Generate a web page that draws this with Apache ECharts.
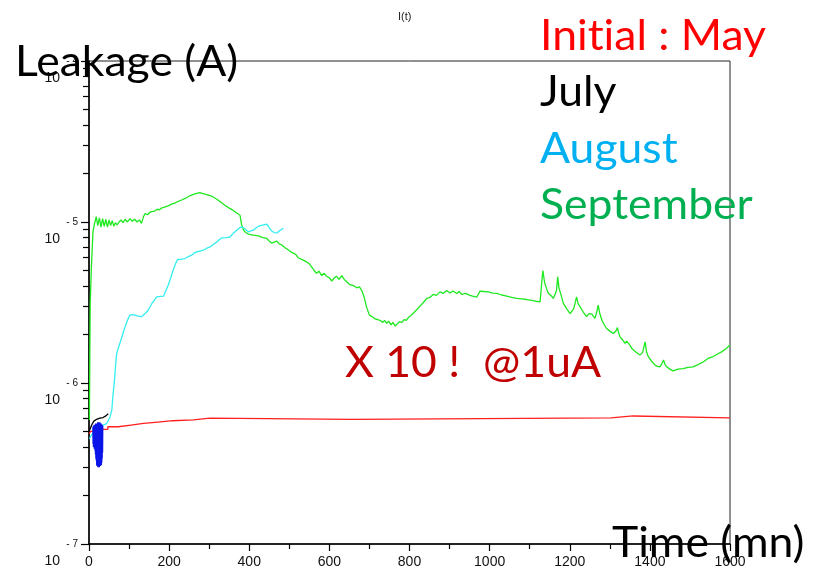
<!DOCTYPE html>
<html>
<head>
<meta charset="utf-8">
<script src="https://cdn.jsdelivr.net/npm/echarts@6/dist/echarts.min.js"></script>
<style>html,body{margin:0;padding:0;background:#fff}#c{width:815px;height:570px}</style>
</head>
<body>
<div id="c"></div>
<script>
// ---- data (time in mn, leakage in A) ----
const xTicks = [0, 200, 400, 600, 800, 1000, 1200, 1400, 1600];
const yDecades = [-7, -6, -5, -4];
const minorMantissas = [2, 3, 4, 5, 6, 7, 8, 9];

const redMay = [[0,4.85e-7],[4,5.0e-7],[12,5.15e-7],[47,5.35e-7],[73,5.48e-7],[105,5.61e-7],[136,5.72e-7],[172,5.83e-7],[209,5.91e-7],[260,6.05e-7],[302,5.94e-7],[656,6.08e-7],[1303,6.24e-7],[1358,6.08e-7],[1600,6.08e-7]];

const blackJuly = [[0,5.0e-7],[3,5.2e-7],[7,5.5e-7],[12,5.8e-7],[19,5.95e-7],[27,6.05e-7],[35,6.1e-7],[42,6.25e-7],[48,6.45e-7]];

const blueJuly = [[10,5.3e-7],[10.5,4.2e-7],[11,5.4e-7],[11.5,4.0e-7],[12,5.4e-7],[12.5,4.1e-7],[13,5.5e-7],[13.5,3.9e-7],[14,5.5e-7],[14.5,4.0e-7],[15,5.5e-7],[15.5,3.8e-7],[16,5.5e-7],[16.5,3.6e-7],[17,5.6e-7],[17.5,3.4e-7],[18,5.6e-7],[18.5,3.3e-7],[19,5.6e-7],[19.5,3.1e-7],[20,5.6e-7],[20.5,3.05e-7],[21,5.6e-7],[21.5,3.1e-7],[22,5.7e-7],[22.5,3.0e-7],[23,5.7e-7],[23.5,3.05e-7],[24,5.7e-7],[24.5,3.1e-7],[25,5.7e-7],[25.5,3.0e-7],[26,5.7e-7],[26.5,3.05e-7],[27,5.7e-7],[27.5,3.1e-7],[28,5.6e-7],[28.5,3.05e-7],[29,5.6e-7],[29.5,3.1e-7],[30,5.6e-7],[30.5,3.1e-7],[31,5.5e-7],[31.5,3.2e-7],[32,5.5e-7],[32.5,3.4e-7],[33,5.5e-7],[33.5,3.7e-7],[34,5.4e-7]];

const cyanAugust = [[1,4.5e-7],[5,4.7e-7],[12,5.0e-7],[20,5.2e-7],[30,5.4e-7],[44,5.6e-7],[52,6.1e-7],[57,6.8e-7],[60,8.5e-7],[63,1.0e-6],[66,1.25e-6],[69,1.53e-6],[77,1.76e-6],[84,2.0e-6],[90,2.23e-6],[96,2.45e-6],[102,2.64e-6],[108,2.66e-6],[115,2.64e-6],[123,2.6e-6],[131,2.58e-6],[140,2.7e-6],[148,2.84e-6],[158,3.15e-6],[169,3.43e-6],[178,3.45e-6],[186,3.46e-6],[192,3.75e-6],[198,4.06e-6],[204,4.5e-6],[210,5.02e-6],[216,5.5e-6],[221,5.85e-6],[230,5.88e-6],[240,5.93e-6],[248,6.1e-6],[256,6.22e-6],[262,6.4e-6],[269,6.52e-6],[277,6.6e-6],[285,6.68e-6],[293,6.85e-6],[302,7.0e-6],[310,7.25e-6],[319,7.52e-6],[325,7.75e-6],[331,7.96e-6],[342,8.0e-6],[352,8.07e-6],[360,8.5e-6],[369,8.89e-6],[377,9.25e-6],[383,9.3e-6],[388,9.12e-6],[393,8.9e-6],[398,8.69e-6],[404,8.8e-6],[410,8.89e-6],[416,9.15e-6],[423,9.42e-6],[433,9.55e-6],[444,9.69e-6],[450,9.2e-6],[456,8.8e-6],[462,8.6e-6],[469,8.55e-6],[473,8.75e-6],[477,8.89e-6],[485,9.12e-6]];

const greenSeptember = [[1,5.9e-7],[2,1.5e-6],[3,3.13e-6],[6,5.3e-6],[10,8.7e-6],[14,9.8e-6],[18,1.08e-5],[22,9.5e-6],[26,1.06e-5],[30,9.3e-6],[34,1.05e-5],[38,9.4e-6],[42,1.04e-5],[46,9.3e-6],[50,1.03e-5],[54,9.5e-6],[58,1.02e-5],[62,9.4e-6],[66,9.9e-6],[70,9.6e-6],[75,1.0e-5],[80,1.03e-5],[85,9.9e-6],[90,1.04e-5],[96,1.0e-5],[102,1.05e-5],[108,1.01e-5],[114,1.04e-5],[120,1.0e-5],[126,1.03e-5],[131,9.8e-6],[136,1.08e-5],[140,1.13e-5],[146,1.11e-5],[152,1.15e-5],[157,1.16e-5],[164,1.17e-5],[170,1.2e-5],[176,1.19e-5],[181,1.22e-5],[190,1.24e-5],[198,1.26e-5],[206,1.29e-5],[214,1.31e-5],[222,1.34e-5],[231,1.37e-5],[240,1.40e-5],[248,1.44e-5],[256,1.47e-5],[266,1.50e-5],[277,1.52e-5],[284,1.50e-5],[290,1.49e-5],[298,1.47e-5],[306,1.45e-5],[314,1.41e-5],[322,1.37e-5],[330,1.32e-5],[339,1.27e-5],[350,1.22e-5],[360,1.18e-5],[368,1.14e-5],[377,1.10e-5],[381,9.6e-6],[385,9.0e-6],[389,8.7e-6],[398,8.4e-6],[410,8.3e-6],[423,8.2e-6],[434,8.0e-6],[444,7.9e-6],[450,7.6e-6],[456,7.4e-6],[462,7.5e-6],[469,7.6e-6],[475,7.3e-6],[481,7.2e-6],[490,6.9e-6],[498,6.7e-6],[505,6.5e-6],[510,6.4e-6],[516,6.3e-6],[522,6.0e-6],[528,5.9e-6],[535,5.8e-6],[543,5.65e-6],[550,5.5e-6],[556,5.25e-6],[562,5.0e-6],[568,4.8e-6],[574,4.95e-6],[581,4.65e-6],[587,4.8e-6],[593,4.6e-6],[600,4.5e-6],[606,4.3e-6],[612,4.5e-6],[618,4.6e-6],[624,4.4e-6],[631,4.65e-6],[637,4.4e-6],[643,4.25e-6],[650,4.1e-6],[656,4.05e-6],[662,4.0e-6],[668,3.9e-6],[675,3.95e-6],[681,3.75e-6],[687,3.4e-6],[693,2.95e-6],[700,2.64e-6],[707,2.58e-6],[714,2.5e-6],[720,2.48e-6],[726,2.45e-6],[733,2.38e-6],[738,2.45e-6],[743,2.35e-6],[748,2.42e-6],[754,2.3e-6],[759,2.38e-6],[764,2.26e-6],[770,2.33e-6],[775,2.4e-6],[781,2.38e-6],[787,2.48e-6],[792,2.45e-6],[797,2.55e-6],[803,2.62e-6],[810,2.72e-6],[818,2.85e-6],[826,3.0e-6],[834,3.15e-6],[843,3.35e-6],[851,3.4e-6],[859,3.55e-6],[867,3.5e-6],[876,3.68e-6],[884,3.6e-6],[893,3.75e-6],[901,3.62e-6],[909,3.73e-6],[918,3.6e-6],[924,3.7e-6],[930,3.55e-6],[940,3.6e-6],[951,3.5e-6],[960,3.45e-6],[968,3.42e-6],[976,3.72e-6],[986,3.7e-6],[997,3.68e-6],[1008,3.62e-6],[1018,3.6e-6],[1030,3.52e-6],[1043,3.46e-6],[1055,3.4e-6],[1068,3.35e-6],[1080,3.33e-6],[1093,3.3e-6],[1105,3.26e-6],[1115,3.22e-6],[1126,3.19e-6],[1130,4.2e-6],[1133,5.0e-6],[1136,4.4e-6],[1138,4.15e-6],[1143,3.8e-6],[1147,3.6e-6],[1153,3.5e-6],[1159,3.35e-6],[1164,3.6e-6],[1167,3.77e-6],[1170,4.56e-6],[1173,3.9e-6],[1176,3.68e-6],[1180,3.4e-6],[1184,3.12e-6],[1192,2.9e-6],[1201,2.7e-6],[1210,2.9e-6],[1217,3.43e-6],[1221,3.1e-6],[1226,2.97e-6],[1234,2.75e-6],[1242,2.58e-6],[1248,2.7e-6],[1255,2.68e-6],[1263,2.52e-6],[1268,2.8e-6],[1271,3.05e-6],[1275,2.7e-6],[1280,2.46e-6],[1286,2.3e-6],[1292,2.18e-6],[1300,2.1e-6],[1309,2.03e-6],[1316,2.12e-6],[1319,2.21e-6],[1322,2.05e-6],[1325,1.94e-6],[1332,1.85e-6],[1338,1.76e-6],[1342,1.82e-6],[1346,1.87e-6],[1350,1.72e-6],[1355,1.64e-6],[1365,1.56e-6],[1375,1.49e-6],[1382,1.55e-6],[1388,1.80e-6],[1392,1.55e-6],[1396,1.46e-6],[1405,1.36e-6],[1413,1.29e-6],[1419,1.27e-6],[1425,1.26e-6],[1430,1.32e-6],[1434,1.39e-6],[1438,1.3e-6],[1442,1.26e-6],[1450,1.22e-6],[1458,1.19e-6],[1470,1.22e-6],[1483,1.23e-6],[1495,1.25e-6],[1508,1.26e-6],[1520,1.3e-6],[1533,1.35e-6],[1545,1.42e-6],[1558,1.46e-6],[1570,1.52e-6],[1579,1.56e-6],[1590,1.63e-6],[1600,1.72e-6]];

// legend text (zero-width non-joiner keeps "ti" from forming a ligature)
const legendLines = ['Init\u200Cial : May', 'July', 'August', 'September'];
const legendColors = ['#ff0000', '#000000', '#00b0f0', '#00b050'];

// minor tick positions (log10 space) for the helper axis
const minorLogTicks = [];
yDecades.slice(0, 3).forEach(d => minorMantissas.forEach(m => minorLogTicks.push(Math.log10(m) + d)));

const chart = echarts.init(document.getElementById('c'));
const bigFont = 'Lato, "Open Sans", sans-serif';
const tickFont = '"Liberation Sans", Arial, sans-serif';
const bigText = (text, left, top, fill) => ({
  type: 'text', left, top, scaleX: 1.06, z: 100,
  style: {text, font: '42px ' + bigFont, fill}
});

const graphics = [
  {type:'text', left: 398, top: 11, style:{text:'I(t)', font:'11px ' + tickFont, fill:'#222'}, z: 100},
  bigText('Leakage (A)', 15, 41, '#000'),
  bigText('Time (mn)', 612, 522, '#000'),
  bigText('X 10 !  @1uA', 345, 342, '#c00000')
];
legendLines.forEach((t, i) => graphics.push(bigText(t, 540, 15 + i * 56.5, legendColors[i])));

const lineSeries = (name, data, color, extra) => Object.assign({
  name, type:'line', data, symbol:'none', animation:false,
  lineStyle:{color, width:1.3}, itemStyle:{color}, z: 3
}, extra || {});

chart.setOption({
  animation: false,
  backgroundColor: '#fff',
  grid: {left: 89, right: 85, top: 61, bottom: 26, show: true, borderColor: '#222', borderWidth: 1, backgroundColor: 'transparent'},
  xAxis: {
    type: 'value', min: xTicks[0], max: xTicks[xTicks.length - 1], interval: 200,
    axisLine: {show: true, lineStyle: {color: '#000', width: 1.5}},
    axisTick: {show: true, length: 7, lineStyle: {color: '#000', width: 1.2}},
    minorTick: {show: true, splitNumber: 2, length: 5, lineStyle: {color: '#000', width: 1.2}},
    axisLabel: {color: '#111', fontSize: 14, fontFamily: tickFont, margin: 11, formatter: v => String(v)},
    splitLine: {show: false}
  },
  yAxis: [{
    type: 'log', logBase: 10, min: 1e-7, max: 1e-4,
    axisLine: {show: true, onZero: false, lineStyle: {color: '#000', width: 1.5}},
    axisTick: {show: true, length: 8, lineStyle: {color: '#000', width: 1.2}},
    axisLabel: {
      margin: 11,
      formatter: v => '{s| }\n{e|- ' + Math.abs(Math.round(Math.log10(v))) + '}\n{b|10}',
      rich: {
        s: {lineHeight: 22, fontSize: 2},
        e: {fontSize: 10, lineHeight: 12, align: 'right', fontFamily: tickFont, color: '#111'},
        b: {fontSize: 14, lineHeight: 22, align: 'right', padding: [0, 18, 0, 0], fontFamily: tickFont, color: '#111'}
      }
    },
    splitLine: {show: false}
  }, {
    type: 'value', min: yDecades[0], max: yDecades[yDecades.length - 1], position: 'left',
    axisLine: {show: false},
    axisTick: {show: true, length: 6, customValues: minorLogTicks, lineStyle: {color: '#000', width: 1.2}},
    axisLabel: {show: false},
    splitLine: {show: false}
  }],
  series: [
    lineSeries('September', greenSeptember, '#1ee81e'),
    lineSeries('August', cyanAugust, '#33eef0'),
    lineSeries('Initial : May', redMay, '#ff2020', {step: 'end', z: 4}),
    lineSeries('July', blackJuly, '#000000', {z: 5}),
    lineSeries('July (2)', blueJuly, '#0a14e8', {z: 5, lineStyle: {color: '#0a14e8', width: 1.6}})
  ],
  graphic: graphics
});
</script>
</body>
</html>
